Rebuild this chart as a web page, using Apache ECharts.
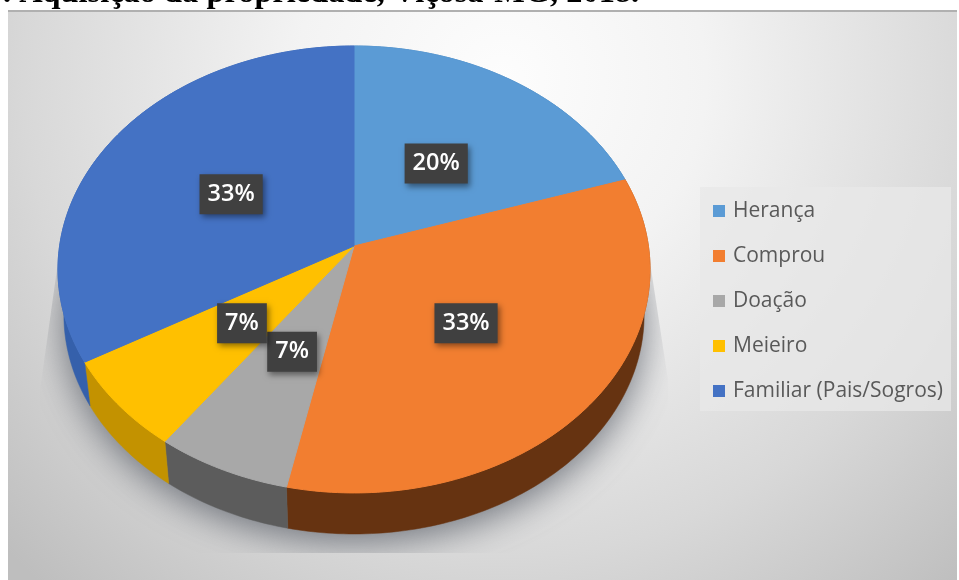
<!DOCTYPE html>
<html><head><meta charset="utf-8">
<style>html,body{margin:0;padding:0;background:#fff}#c{width:959px;height:580px}</style>
<script src="https://cdn.jsdelivr.net/npm/echarts@6/dist/echarts.min.js"></script>
</head><body><div id="c"></div>
<script>
const titleText = '. Aquisição da propriedade, Viçosa-MG, 2018.';
const categories = ['Herança', 'Comprou', 'Doação', 'Meieiro', 'Familiar (Pais/Sogros)'];
const values = [20, 33.3, 6.7, 6.7, 33.3];
const topColors = ['#5b9bd5', '#f27e30', '#a8a8a8', '#ffc000', '#4472c4'];
const wallColors = ['#2e6da4', '#663311', '#5c5c5c', '#c39200', '#3560ab'];

const total = values.reduce((a, b) => a + b, 0);
const CX = 354, CY = 246, B = 294.4, A = 221, K = 0.105, DEPTH = 46, WALL = 0.98;

function project(deg, r) {
  const t = deg * Math.PI / 180, u = r * Math.sin(t), v = -r * Math.cos(t), w = 1 - K * v;
  return [B * u / w, A * v / w];
}
const startDeg = i => values.slice(0, i).reduce((a, b) => a + b, 0) / total * 360;
function arc(from, to) {
  const pts = [], n = Math.max(2, Math.ceil(to - from));
  for (let j = 0; j <= n; j++) pts.push(project(from + (to - from) * j / n, 1));
  return pts;
}
const topPt = p => [CX + p[0], CY + p[1]];
const lowPt = p => [CX + p[0] * WALL, CY + p[1] * WALL + DEPTH];

function sliceRender(i) {
  return function (params, api) {
    const from = startDeg(i), to = from + api.value(0) / total * 360, rim = arc(from, to);
    const mid = project((from + to) / 2, 0.48);
    return {
      type: 'group',
      children: [
        { type: 'polygon', z2: 1,
          shape: { points: rim.map(topPt).concat(rim.slice().reverse().map(lowPt)) },
          style: { fill: wallColors[i], stroke: wallColors[i], lineWidth: 0.5 } },
        { type: 'polygon', z2: 5,
          shape: { points: [[CX, CY]].concat(rim.map(topPt)) },
          style: { fill: topColors[i], stroke: topColors[i], lineWidth: 1 } },
        { type: 'text', z2: 10, x: CX + mid[0] * 1.03, y: CY + mid[1] + (mid[1] > 0 ? 4 : 0),
          style: { text: Math.round(api.value(0)) + '%', align: 'center', verticalAlign: 'middle',
            fill: '#fff', font: '600 23.5px "Open Sans"', backgroundColor: '#404040',
            padding: [4, 8, 5, 8], lineHeight: 31,
            shadowBlur: 6, shadowColor: 'rgba(0,0,0,0.45)', shadowOffsetX: 2, shadowOffsetY: 3 } }
      ]
    };
  };
}

const seriesList = [{
  type: 'custom', name: 'sombra', coordinateSystem: 'none', z: 1, silent: true,
  data: [[total]],
  renderItem: function () {
    return { type: 'polygon',
      shape: { points: arc(0, 360).map(lowPt) },
      style: { fill: '#9a9fa5', shadowBlur: 36, shadowColor: 'rgba(85,90,100,0.8)', shadowOffsetY: 8 },
      clipPath: { type: 'polygon', shape: { points: [[58, 262], [40, 390], [40, 553], [668, 553], [668, 380], [650, 262]] } } };
  }
}];
categories.forEach((name, i) => seriesList.push({
  type: 'custom', name: name, coordinateSystem: 'none', z: 3, silent: true,
  itemStyle: { color: topColors[i] },
  data: [[values[i]]],
  renderItem: sliceRender(i)
}));

const chart = echarts.init(document.getElementById('c'), null, { renderer: 'canvas' });
chart.setOption({
  animation: false,
  backgroundColor: '#ffffff',
  title: { text: titleText, left: 3, top: -22, padding: 0,
    textStyle: { fontFamily: '"Liberation Serif"', fontWeight: 'bold', fontSize: 32.4, color: '#000' } },
  legend: {
    data: categories, orient: 'vertical', left: 700, top: 187, icon: 'rect',
    itemWidth: 12, itemHeight: 12, itemGap: 21, padding: [12, 8, 8, 13],
    backgroundColor: 'rgba(232,232,232,0.75)', selectedMode: false,
    textStyle: { fontFamily: '"Open Sans"', fontSize: 21, color: '#595959', lineHeight: 24, padding: [0, 0, 0, 3] }
  },
  graphic: { elements: [
    { type: 'rect', z: -10, silent: true, shape: { x: 8, y: 11, width: 949, height: 569 },
      style: { fill: { type: 'radial', x: 0.52, y: 0.12, r: 1.2, colorStops: [
        { offset: 0, color: '#fdfdfd' }, { offset: 0.3, color: '#f3f3f3' }, { offset: 0.7, color: '#d8d8d8' }, { offset: 1, color: '#bebebe' } ] } } },
    { type: 'rect', z: -9, silent: true, shape: { x: 8, y: 10, width: 949, height: 2 }, style: { fill: '#b0b0b0' } }
  ] },
  series: seriesList
});
</script></body></html>
